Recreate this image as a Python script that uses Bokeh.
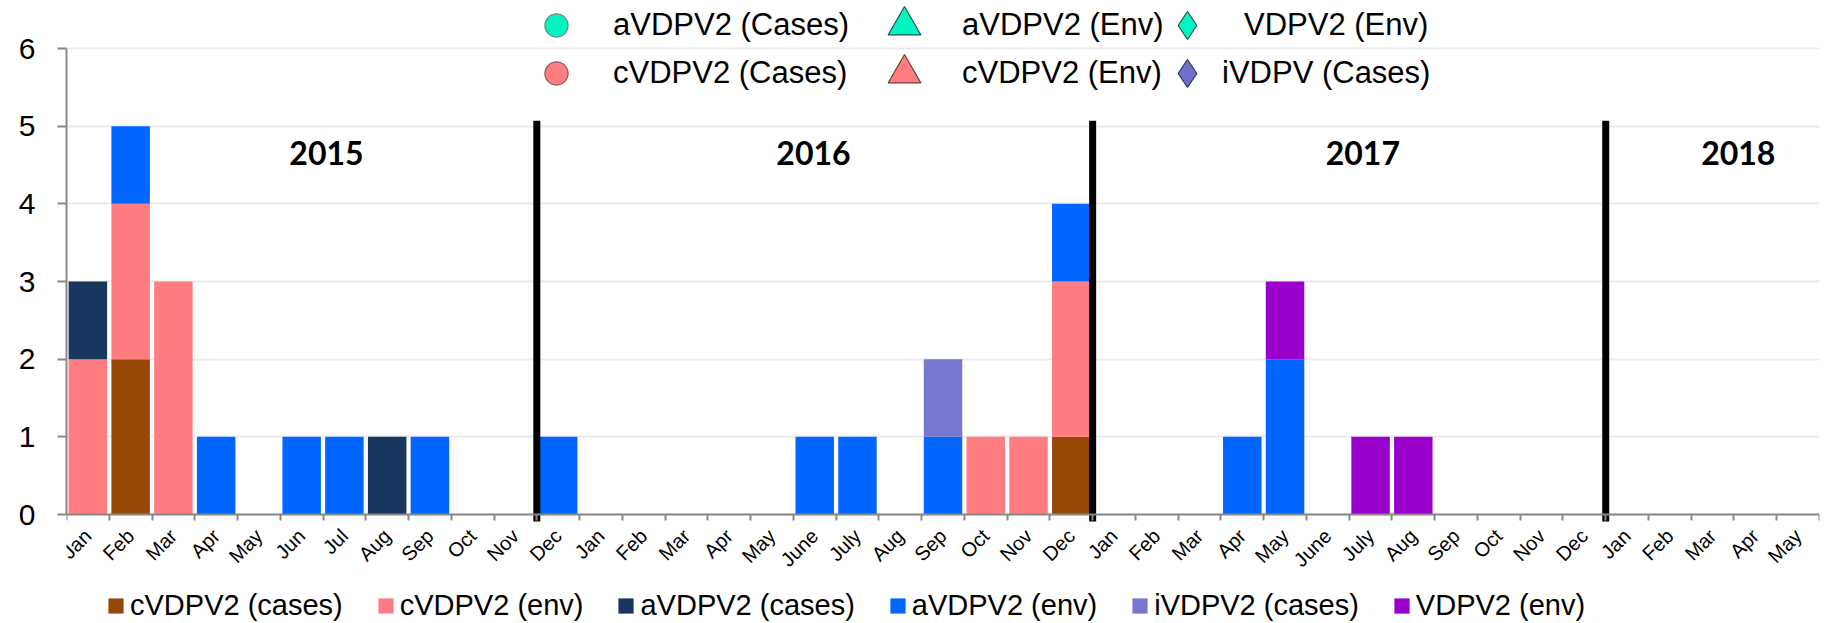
import math
from bokeh.plotting import figure
from bokeh.models import Range1d, FixedTicker, Legend, LegendItem, ColumnDataSource
from bokeh.core.properties import value
from bokeh.embed import file_html
from bokeh.resources import INLINE

# ---------------- data ----------------
months = ["Jan", "Feb", "Mar", "Apr", "May", "Jun", "Jul", "Aug", "Sep", "Oct", "Nov",
          "Dec", "Jan", "Feb", "Mar", "Apr", "May", "June", "July", "Aug", "Sep", "Oct", "Nov", "Dec",
          "Jan", "Feb", "Mar", "Apr", "May", "June", "July", "Aug", "Sep", "Oct", "Nov", "Dec",
          "Jan", "Feb", "Mar", "Apr", "May"]

cv_cases = [0, 2, 0, 0, 0, 0, 0, 0, 0, 0, 0,
            0, 0, 0, 0, 0, 0, 0, 0, 0, 0, 0, 0, 1,
            0, 0, 0, 0, 0, 0, 0, 0, 0, 0, 0, 0,
            0, 0, 0, 0, 0]
cv_env = [2, 2, 3, 0, 0, 0, 0, 0, 0, 0, 0,
          0, 0, 0, 0, 0, 0, 0, 0, 0, 0, 1, 1, 2,
          0, 0, 0, 0, 0, 0, 0, 0, 0, 0, 0, 0,
          0, 0, 0, 0, 0]
av_cases = [1, 0, 0, 0, 0, 0, 0, 1, 0, 0, 0,
            0, 0, 0, 0, 0, 0, 0, 0, 0, 0, 0, 0, 0,
            0, 0, 0, 0, 0, 0, 0, 0, 0, 0, 0, 0,
            0, 0, 0, 0, 0]
av_env = [0, 1, 0, 1, 0, 1, 1, 0, 1, 0, 0,
          1, 0, 0, 0, 0, 0, 1, 1, 0, 1, 0, 0, 1,
          0, 0, 0, 1, 2, 0, 0, 0, 0, 0, 0, 0,
          0, 0, 0, 0, 0]
iv_cases = [0, 0, 0, 0, 0, 0, 0, 0, 0, 0, 0,
            0, 0, 0, 0, 0, 0, 0, 0, 0, 1, 0, 0, 0,
            0, 0, 0, 0, 0, 0, 0, 0, 0, 0, 0, 0,
            0, 0, 0, 0, 0]
vdpv_env = [0, 0, 0, 0, 0, 0, 0, 0, 0, 0, 0,
            0, 0, 0, 0, 0, 0, 0, 0, 0, 0, 0, 0, 0,
            0, 0, 0, 0, 1, 0, 1, 1, 0, 0, 0, 0,
            0, 0, 0, 0, 0]

series_keys = ["cv_cases", "cv_env", "av_cases", "av_env", "iv_cases", "vdpv_env"]
series_labels = ["cVDPV2 (cases)", "cVDPV2 (env)", "aVDPV2 (cases)",
                 "aVDPV2 (env)", "iVDPV2 (cases)", "VDPV2 (env)"]
series_colors = ["#974706", "#FF7C80", "#17375E", "#0066FF", "#7777D2", "#9900CC"]

year_names = ["2015", "2016", "2017", "2018"]
year_break_after = [10, 23, 35]          # last month index before each year divider

marker_labels = ["aVDPV2 (Cases)", "cVDPV2 (Cases)", "aVDPV2 (Env)",
                 "cVDPV2 (Env)", "VDPV2 (Env)", "iVDPV (Cases)"]

# ---------------- styling / layout constants ----------------
FONT = "Liberation Sans"
W, H = 1837, 623
FL, FR = 66, 18                 # frame left / right borders (px)
Y0_PX, Y6_PX = 514, 48          # pixel rows of y=0 and y=6
unit = (Y0_PX - Y6_PX) / 6.0
y_start = -(H - Y0_PX) / unit
y_end = 6 + Y6_PX / unit

year_label_x = [5.58, 16.97, 29.82, 38.6]
year_label_y = 4.65

n = len(months)
src = ColumnDataSource(dict(x=list(range(n)), cv_cases=cv_cases, cv_env=cv_env,
                            av_cases=av_cases, av_env=av_env, iv_cases=iv_cases,
                            vdpv_env=vdpv_env))

p = figure(width=W, height=H, x_range=Range1d(-0.5, n - 0.5), y_range=Range1d(y_start, y_end),
           output_backend="svg", toolbar_location=None,
           min_border_left=FL, min_border_right=FR, min_border_top=0, min_border_bottom=0)
p.outline_line_color = None
p.background_fill_color = "white"
p.border_fill_color = "white"

# grid
p.xgrid.visible = False
p.ygrid.grid_line_color = "#EBEBEB"
p.ygrid.grid_line_width = 2
p.ygrid.ticker = FixedTicker(ticks=[0, 1, 2, 3, 4, 5, 6])

# y axis
ya = p.yaxis[0]
ya.ticker = FixedTicker(ticks=[0, 1, 2, 3, 4, 5, 6])
ya.bounds = (0, 6)
ya.axis_line_color = "#888888"
ya.axis_line_width = 2
ya.major_tick_line_color = "#888888"
ya.major_tick_line_width = 2
ya.major_tick_out = 9
ya.major_tick_in = 0
ya.minor_tick_line_color = None
ya.major_label_text_font = FONT
ya.major_label_text_font_size = "30px"
ya.major_label_text_color = "black"
ya.major_label_standoff = 22

# x axis: labels at month centres, ticks at month boundaries, pinned at y = 0
xa = p.xaxis[0]
xa.fixed_location = 0
xa.ticker = FixedTicker(ticks=list(range(n)), minor_ticks=[i - 0.5 for i in range(n + 1)])
xa.major_label_overrides = {i: m for i, m in enumerate(months)}
xa.major_label_orientation = math.pi / 4
xa.axis_line_color = "#888888"
xa.axis_line_width = 2
xa.major_tick_out = 0
xa.major_tick_in = 0
xa.major_tick_line_color = None
xa.minor_tick_out = 6
xa.minor_tick_in = 0
xa.minor_tick_line_color = "#888888"
xa.minor_tick_line_width = 2
xa.major_label_text_font = FONT
xa.major_label_text_font_size = "20px"
xa.major_label_text_color = "black"
xa.major_label_standoff = 12

# bars
bars = p.vbar_stack(series_keys, x="x", width=0.9, color=series_colors,
                    line_color=None, source=src)

# year dividers
div_x = [b + 0.5 for b in year_break_after]
p.segment(x0=div_x, y0=[-0.09] * len(div_x), x1=div_x, y1=[5.07] * len(div_x),
          line_color="black", line_width=7)

# year labels
p.text(x=year_label_x, y=[year_label_y] * len(year_names), text=year_names,
       text_font=value("Lato"), text_font_style="bold", text_font_size="32px",
       text_align="center", text_baseline="middle", text_color="black")

# bottom legend
BOT_CY = 606
bottom_leg = Legend(items=[LegendItem(label=lab, renderers=[r]) for lab, r in zip(series_labels, bars)],
                    orientation="horizontal", location=(106 - FL, H - BOT_CY - 16),
                    glyph_width=19, glyph_height=19, label_standoff=5, spacing=33,
                    padding=0, margin=0, border_line_alpha=0, background_fill_alpha=0,
                    label_text_font=FONT, label_text_font_size="29px", label_text_color="black",
                    label_height=32)
p.add_layout(bottom_leg)

# top marker legend (legend-only entries: markers with no plotted data)
marker_specs = [
    ("circle", "#00F5C4", "#7F7F7F"),
    ("circle", "#FF7C80", "#8C5A5A"),
    ("triangle", "#00F5C4", "#2F4F4F"),
    ("triangle", "#FF7C80", "#6E3B3B"),
    ("diamond", "#00F5C4", "#2F4F4F"),
    ("diamond", "#7070CC", "#33335F"),
]
mk_cx = [556, 556, 904, 904, 1187, 1187]     # marker centres (px)
mk_cy = [25, 73, 25, 73, 25, 73]
text_x0 = [613, 613, 962, 962, 1244, 1222]    # label start (px)
glyph_sz = [58, 58, 82, 82, 70, 70]
for (mk, fc, lc), lab, cx, cy, tx, gs in zip(marker_specs, marker_labels, mk_cx, mk_cy, text_x0, glyph_sz):
    r = p.scatter(x=[float("nan")], y=[float("nan")], marker=mk, fill_color=fc,
                  line_color=lc, line_width=1.2)
    left = cx - gs / 2
    lg = Legend(items=[LegendItem(label=lab, renderers=[r])],
                location=(int(round(left - FL)), int(round(H - (cy + gs / 2)))),
                glyph_width=gs, glyph_height=gs, label_standoff=int(round(tx - (left + gs))),
                padding=0, margin=0, border_line_alpha=0, background_fill_alpha=0,
                label_text_font=FONT, label_text_font_size="31px", label_text_color="black")
    p.add_layout(lg)

open("out.html", "w").write(file_html(p, INLINE))
